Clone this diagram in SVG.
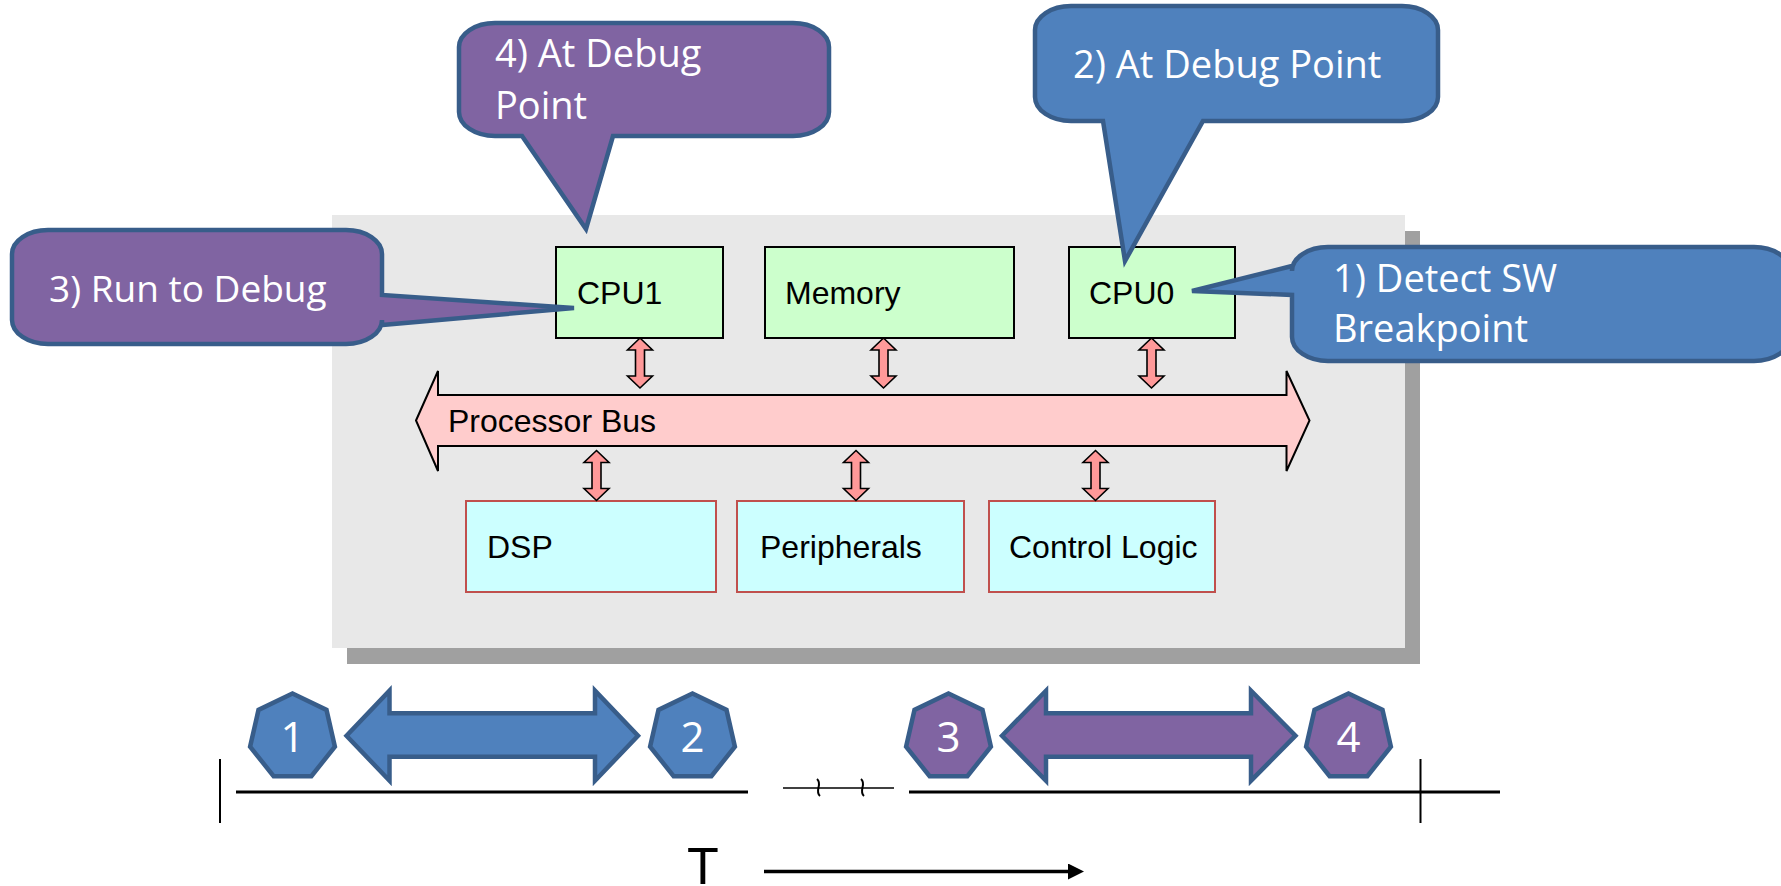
<svg xmlns="http://www.w3.org/2000/svg" xmlns:xlink="http://www.w3.org/1999/xlink" width="1781" height="886" viewBox="0 0 1781 886">
  <style>
    .cpu { fill: #ccffcc; stroke: #000; stroke-width: 2; }
    .blk { fill: #ccffff; stroke: #c0504d; stroke-width: 2; }
    .lbl { font-family: "Liberation Sans", Arial, sans-serif; font-size: 32px; fill: #000; }
    .call { stroke: #385d8a; stroke-width: 4.5; stroke-linejoin: miter; }
    .blue { fill: #4f81bd; }
    .purple { fill: #8064a2; }
    .ctext { font-family: "Open Sans", "Noto Sans", sans-serif; font-size: 38px; fill: #fff; }
    .num { font-family: "Open Sans", "Noto Sans", sans-serif; font-size: 42px; fill: #fff; text-anchor: middle; }
    .link { fill: #ff9999; stroke: #000; stroke-width: 1.6; stroke-linejoin: miter; }
    .axis { stroke: #000; fill: none; }
  </style>
  <defs>
    <!-- small bidirectional bus link, 50 px long, anchored at its top tip -->
    <path id="link" d="M0,0 L12.5,12 L4.5,12 L4.5,38 L12.5,38 L0,50 L-12.5,38 L-4.5,38 L-4.5,12 L-12.5,12 Z"/>
    <!-- heptagon step marker, centred on origin -->
    <polygon id="hept" points="0,-43.5 34.01,-27.12 42.41,9.68 18.87,39.19 -18.87,39.19 -42.41,9.68 -34.01,-27.12"/>
    <marker id="head" viewBox="0 0 16 16" refX="0" refY="8" markerWidth="16" markerHeight="16" markerUnits="userSpaceOnUse" orient="auto">
      <path d="M0,0 L16,8 L0,16 Z" fill="#000"/>
    </marker>
  </defs>

  <rect width="1781" height="886" fill="#fff"/>

  <!-- SoC panel with drop shadow -->
  <g id="soc">
    <rect x="347" y="231" width="1073" height="433" fill="#a0a0a0"/>
    <rect x="332" y="215" width="1073" height="433" fill="#e8e8e8"/>
  </g>

  <g id="cpu1">
    <rect class="cpu" x="556" y="247" width="167" height="91"/>
    <text class="lbl" x="577" y="304">CPU1</text>
  </g>
  <g id="memory">
    <rect class="cpu" x="765" y="247" width="249" height="91"/>
    <text class="lbl" x="785" y="304">Memory</text>
  </g>
  <g id="cpu0">
    <rect class="cpu" x="1069" y="247" width="166" height="91"/>
    <text class="lbl" x="1089" y="304">CPU0</text>
  </g>

  <g id="bus">
    <path d="M416,420.5 L438,371 L438,395 L1286.5,395 L1286.5,371 L1309.5,420.5 L1286.5,471 L1286.5,446 L438,446 L438,471 Z" fill="#ffcccc" stroke="#000" stroke-width="2" stroke-linejoin="miter"/>
    <text class="lbl" x="448" y="432">Processor Bus</text>
  </g>

  <g id="dsp">
    <rect class="blk" x="466" y="501" width="250" height="91"/>
    <text class="lbl" x="487" y="558">DSP</text>
  </g>
  <g id="peripherals">
    <rect class="blk" x="737" y="501" width="227" height="91"/>
    <text class="lbl" x="760" y="558">Peripherals</text>
  </g>
  <g id="control-logic">
    <rect class="blk" x="989" y="501" width="226" height="91"/>
    <text class="lbl" x="1009" y="558">Control Logic</text>
  </g>

  <!-- bus links -->
  <g id="connectors">
    <use xlink:href="#link" class="link" transform="translate(640,338)"/>
    <use xlink:href="#link" class="link" transform="translate(883.5,338)"/>
    <use xlink:href="#link" class="link" transform="translate(1151.5,338)"/>
    <use xlink:href="#link" class="link" transform="translate(596.5,450.5)"/>
    <use xlink:href="#link" class="link" transform="translate(856,450.5)"/>
    <use xlink:href="#link" class="link" transform="translate(1095.5,450.5)"/>
  </g>

  <!-- callouts -->
  <g id="callout-4">
    <path class="call purple" d="M495,23 H793 A36,24 0 0 1 829,47 V112 A36,24 0 0 1 793,136 H613 L586,229 L522,136 H495 A36,24 0 0 1 459,112 V47 A36,24 0 0 1 495,23 Z"/>
    <text class="ctext" x="495" y="67">4) At Debug</text>
    <text class="ctext" x="495" y="119">Point</text>
  </g>
  <g id="callout-2">
    <path class="call blue" d="M1071,6 H1402 A36,24 0 0 1 1438,30 V97 A36,24 0 0 1 1402,121 H1203 L1125,261 L1103,121 H1071 A36,24 0 0 1 1035,97 V30 A36,24 0 0 1 1071,6 Z"/>
    <text class="ctext" x="1073" y="78">2) At Debug Point</text>
  </g>
  <g id="callout-3">
    <path class="call purple" d="M48,230 H346 A36,24 0 0 1 382,254 V295 L574,308 L382,325 V320 A36,24 0 0 1 346,344 H48 A36,24 0 0 1 12,320 V254 A36,24 0 0 1 48,230 Z"/>
    <text class="ctext" x="49" y="302" style="font-size:37px">3) Run to Debug</text>
  </g>
  <g id="callout-1">
    <path class="call blue" d="M1328,247 H1754 A36,24 0 0 1 1790,271 V337 A36,24 0 0 1 1754,361 H1328 A36,24 0 0 1 1292,337 V295 L1192,291 L1292,266 V271 A36,24 0 0 1 1328,247 Z"/>
    <text class="ctext" x="1333" y="292">1) Detect SW</text>
    <text class="ctext" x="1333" y="342">Breakpoint</text>
  </g>

  <!-- timeline -->
  <g id="timeline">
    <line class="axis" x1="220" y1="759" x2="220" y2="823" stroke-width="2"/>
    <line class="axis" x1="236" y1="792" x2="748" y2="792" stroke-width="3"/>
    <line class="axis" x1="783" y1="788" x2="894" y2="788" stroke-width="1.6"/>
    <path class="axis" d="M817,779 C823,784 814,791 820,796" stroke-width="2"/>
    <path class="axis" d="M861,779 C867,784 858,791 864,796" stroke-width="2"/>
    <line class="axis" x1="909" y1="792" x2="1500" y2="792" stroke-width="3"/>
    <line class="axis" x1="1420.5" y1="759" x2="1420.5" y2="823" stroke-width="2"/>
  </g>

  <g id="step-1-2">
    <polygon class="call blue" points="346.5,735.7 389.5,690.7 389.5,713.3 595,713.3 595,690.7 638,735.7 595,780.7 595,756.7 389.5,756.7 389.5,780.7"/>
  </g>
  <g id="step-3-4">
    <polygon class="call purple" points="1002,735.7 1046,690.7 1046,713.3 1251,713.3 1251,690.7 1295.5,735.7 1251,780.7 1251,756.7 1046,756.7 1046,780.7"/>
  </g>

  <g id="marker-1">
    <use xlink:href="#hept" class="call blue" x="292.5" y="737"/>
    <text class="num" x="292.5" y="752">1</text>
  </g>
  <g id="marker-2">
    <use xlink:href="#hept" class="call blue" x="692.5" y="737"/>
    <text class="num" x="692.5" y="752">2</text>
  </g>
  <g id="marker-3">
    <use xlink:href="#hept" class="call purple" x="948.5" y="737"/>
    <text class="num" x="948.5" y="752">3</text>
  </g>
  <g id="marker-4">
    <use xlink:href="#hept" class="call purple" x="1348.5" y="737"/>
    <text class="num" x="1348.5" y="752">4</text>
  </g>

  <!-- time direction -->
  <g id="time-axis">
    <text x="687" y="884" font-family="'Liberation Sans', Arial, sans-serif" font-size="52" fill="#000">T</text>
    <line x1="764" y1="871.5" x2="1068" y2="871.5" stroke="#000" stroke-width="3.5" marker-end="url(#head)"/>
  </g>
</svg>
